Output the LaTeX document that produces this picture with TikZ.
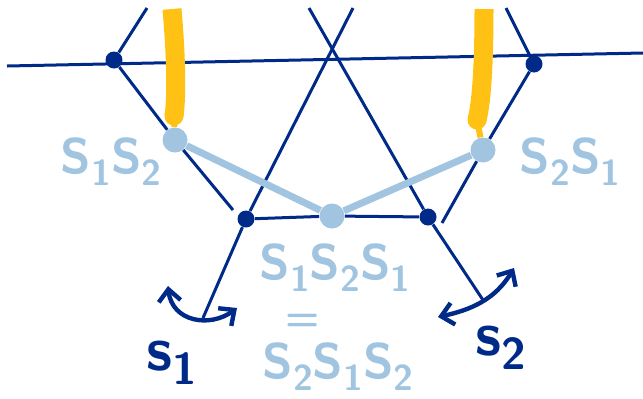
\documentclass[tikz,border=0pt]{standalone}
\usepackage{fontspec}
\usepackage{tikz}
\usetikzlibrary{arrows.meta}
\definecolor{wallblue}{RGB}{0,42,136}
\definecolor{wordblue}{RGB}{161,197,224}
\definecolor{trailyellow}{RGB}{255,193,20}
\newcommand{\low}[1]{\raisebox{-0.24em}{\scalebox{0.72}{#1}}}

\begin{document}
\begin{tikzpicture}[
  x=0.5pt,y=-0.5pt,
  vtx/.style={circle,fill=wallblue,minimum size=8.5pt,inner sep=0pt},
  elt/.style={circle,fill=wordblue,minimum size=12.5pt,inner sep=0pt},
  wall/.style={wallblue,line width=1.5pt},
  walk/.style={wordblue,line width=3.5pt},
  trail/.style={trailyellow,line width=9.5pt},
  word/.style={wordblue,font=\sffamily\bfseries\fontsize{25}{27}\selectfont,inner sep=0pt,anchor=base},
  gen/.style={wallblue,font=\sffamily\bfseries\fontsize{31}{33}\selectfont,inner sep=0pt,anchor=base},
  turn/.style={wallblue,line width=2.2pt,{Straight Barb[length=6pt,width=11pt]}-{Straight Barb[length=6pt,width=11pt]}}]
  \useasboundingbox(0,0)rectangle(643,398);
  % chambers: walls meet here
  \node[vtx](A) at(114,60){};
  \node[vtx](B) at(246,219){};
  \node[vtx](C) at(428,217){};
  \node[vtx](D) at(534,64){};
  \node[elt](L1) at(175,140){};
  \node[elt](L2) at(332,216){};
  \node[elt](L3) at(483,150){};
  \coordinate(h0) at(7,66);
  \coordinate(h1) at(643,53);
  \coordinate(t1) at(147,8);
  \coordinate(t2) at(353,8);
  \coordinate(t3) at(309,8);
  \coordinate(t4) at(506,8);
  \coordinate(e1) at(233,210);
  \coordinate(e2) at(203,318);
  \coordinate(e3) at(483,300);
  \coordinate(e4) at(442,223);
  \draw[wall](h0)--(h1);
  \draw[wall](t1)--(A)--(L1)--(e1);
  \draw[wall](t2)--(B)--(e2);
  \draw[wall](t3)--(C)--(e3);
  \draw[wall](t4)--(D)--(L3)--(e4);
  \draw[wall](B)--(L2)--(C);
  \draw[walk](L1)--(L2)--(L3);
  % yellow trails
  \coordinate(y1) at(172,9);
  \coordinate(y2) at(484,9);
  \coordinate(y3) at(174,116);
  \coordinate(y4) at(477,120);
  \draw[trail](y1)..controls(176,55)and(177,95)..(y3);
  \fill[trailyellow](y3)circle(4.75pt);
  \draw[trail,line width=3pt](y3)--(L1);
  \draw[trail](y2)..controls(484,60)and(482,100)..(y4);
  \fill[trailyellow](y4)circle(4.75pt);
  \draw[trail,line width=3pt](y4)--(L3);
  % labels
  \node[word](w12) at(111,173){S\low1S\low2};
  \node[word](w21) at(570,173){S\low2S\low1};
  \node[word](w121) at(335,279){S\low1S\low2S\low1};
  \node[word,anchor=center,font=\sffamily\bfseries\fontsize{20}{22}\selectfont](eq) at(303,322){=};
  \node[word](w212) at(338,378){S\low2S\low1S\low2};
  \node[gen](g1) at(172,370){s\low1};
  \node[gen](g2) at(501,355){s\low2};
  % reflections
  \coordinate(a1) at(168,286);
  \coordinate(a2) at(237,308);
  \coordinate(a3) at(438,317);
  \coordinate(a4) at(514,268);
  \draw[turn](a1)..controls(172,322)and(210,328)..(a2);
  \draw[turn](a3)..controls(470,310)and(495,300)..(a4);
\end{tikzpicture}
\end{document}
